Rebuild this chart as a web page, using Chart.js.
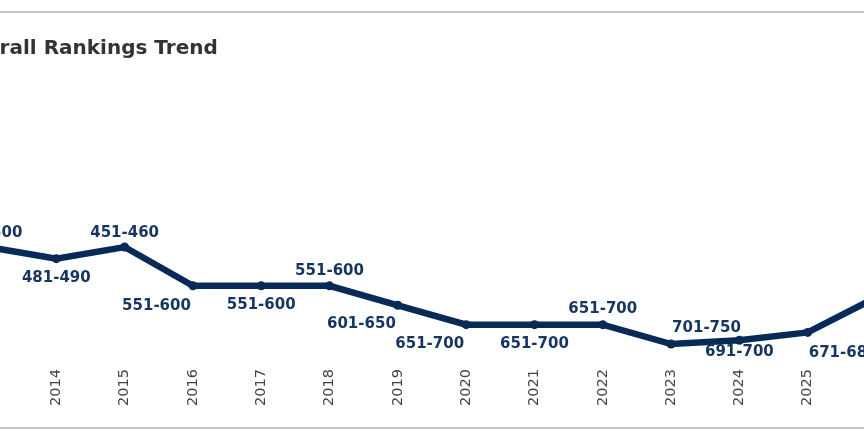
<!DOCTYPE html>
<html>
<head>
<meta charset="utf-8">
<script src="https://cdn.jsdelivr.net/npm/chart.js@4/dist/chart.umd.min.js"></script>
<style>
  body { margin: 0; background: #fff; width: 864px; height: 445px; overflow: hidden; position: relative; }
  #box { position: absolute; left: -80px; top: 11px; width: 1024px; height: 414px;
         border-top: 2px solid #c6c6c6; border-bottom: 2px solid #c6c6c6; }
  #title { position: absolute; left: 36px; top: 22px; margin: 0;
           font: bold 20px "DejaVu Sans"; color: #333; white-space: nowrap; }
  #wrap { position: absolute; left: 0; top: 0; width: 1024px; height: 414px; }
</style>
</head>
<body>
<div id="box">
  <div id="wrap"><canvas id="rankChart"></canvas></div>
  <div id="title">Overall Rankings Trend</div>
</div>
<script>
// QS style ranking bands, plotted by their lower bound
var years = ["2013", "2014", "2015", "2016", "2017", "2018", "2019",
             "2020", "2021", "2022", "2023", "2024", "2025", "2026"];
var rankLabels = ["451-500", "481-490", "451-460", "551-600", "551-600", "551-600", "601-650",
                  "651-700", "651-700", "651-700", "701-750", "691-700", "671-680", "581-590"];
var rankValues = [451, 481, 451, 551, 551, 551, 601, 651, 651, 651, 701, 691, 671, 581];

// where each band label sits relative to its point
var labelPlace = [
  { align: "center", dy: -16 }, { align: "center", dy: 18 },  { align: "center", dy: -16 },
  { align: "right", dy: 18.5 },  { align: "center", dy: 17.5 }, { align: "center", dy: -16 },
  { align: "right", dy: 17.5 },  { align: "right", dy: 18 },   { align: "center", dy: 18 },
  { align: "center", dy: -17 }, { align: "left", dy: -18 },    { align: "center", dy: 10.5 },
  { align: "left", dy: 19 },     { align: "left", dy: 18 }
];

var navy = "#082a57";

var bandLabels = {
  id: "bandLabels",
  afterDatasetsDraw: function(chart) {
    var ctx = chart.ctx;
    var meta = chart.getDatasetMeta(0);
    ctx.save();
    ctx.font = 'bold 15px "DejaVu Sans"';
    ctx.fillStyle = "#16355f";
    ctx.textBaseline = "alphabetic";
    meta.data.forEach(function(pt, i) {
      var a = labelPlace[i].align;
      ctx.textAlign = a;
      var x = pt.x + (a == "right" ? -2 : (a == "left" ? 1 : 0));
      ctx.fillText(rankLabels[i], x, pt.y + labelPlace[i].dy + 5.5);
    });
    ctx.restore();
  }
};

new Chart("rankChart", {
  type: "line",
  data: {
    labels: years,
    datasets: [{
      data: rankValues,
      borderColor: navy,
      backgroundColor: navy,
      borderWidth: 6.5,
      pointRadius: 4.5,
      pointBorderWidth: 0,
      pointBackgroundColor: navy,
      tension: 0,
      fill: false
    }]
  },
  options: {
    responsive: true,
    maintainAspectRatio: false,
    animation: false,
    layout: { padding: { left: 68, right: 68, top: 59, bottom: 15 } },
    plugins: { legend: { display: false }, tooltip: { enabled: false }, title: { display: false } },
    scales: {
      x: {
        offset: false,
        grid: { display: false, drawTicks: false },
        border: { display: false },
        ticks: {
          minRotation: 90, maxRotation: 90, padding: 6,
          color: "#444", font: { family: "DejaVu Sans", size: 14.5 }
        }
      },
      y: { display: false, reverse: true, min: 0, max: 750 }
    }
  },
  plugins: [bandLabels]
});
</script>
</body>
</html>
